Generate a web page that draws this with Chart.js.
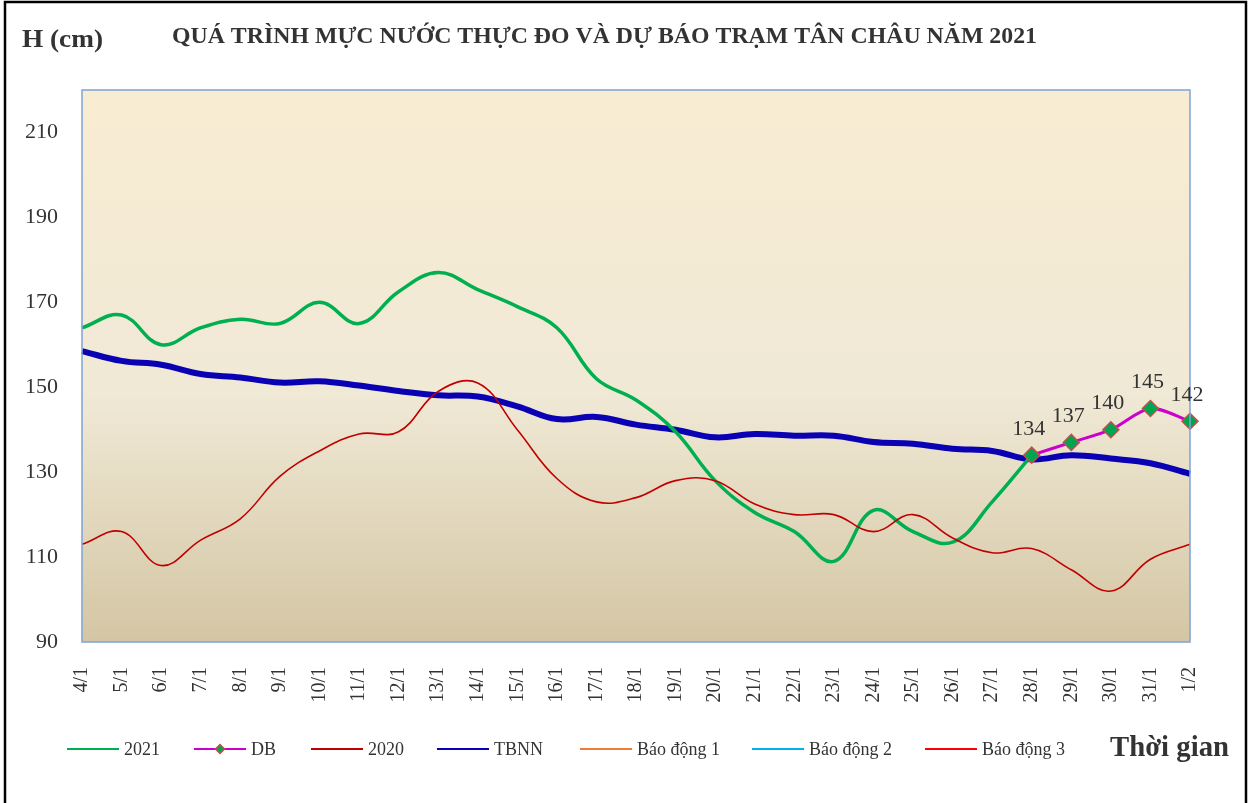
<!DOCTYPE html>
<html>
<head>
<meta charset="utf-8">
<script src="https://cdn.jsdelivr.net/npm/chart.js@4/dist/chart.umd.min.js"></script>
<style>
  html, body { margin: 0; padding: 0; background: #fff; }
</style>
</head>
<body>
<canvas id="tanChauChart" width="1253" height="803"></canvas>
<script>
// ngày (trục hoành)
const days = ['4/1','5/1','6/1','7/1','8/1','9/1','10/1','11/1','12/1','13/1','14/1','15/1','16/1','17/1',
  '18/1','19/1','20/1','21/1','22/1','23/1','24/1','25/1','26/1','27/1','28/1','29/1','30/1','31/1','1/2'];

// mực nước thực đo 2021 (cm)
const h2021 = [164, 167, 160, 164, 166, 165, 170, 165, 172.5, 177, 173, 169, 164, 152,
  147, 139.5, 128, 120.5, 116, 109, 121, 116, 113.5, 123, 134, null, null, null, null];
// dự báo
const hForecast = [null, null, null, null, null, null, null, null, null, null, null, null, null, null,
  null, null, null, null, null, null, null, null, null, null, 134, 137, 140, 145, 142];
// năm 2020
const h2020 = [113, 116, 108, 114, 119, 129, 135, 139, 139.5, 149, 151, 140, 128.5, 123,
  124, 128, 128, 122.5, 120, 120, 116, 120, 114.5, 111, 112, 107, 102, 109.5, 113];
// trung bình nhiều năm
const tbnn = [158.5, 156.2, 155.3, 153.1, 152.3, 151.1, 151.4, 150.4, 149.1, 148.1, 147.8, 145.5, 142.5, 143,
  141.2, 140, 138.2, 139, 138.6, 138.6, 137.1, 136.7, 135.5, 135, 133, 134, 133.2, 132.1, 129.6];
// báo động 1-3 nằm ngoài khung trục tung nên không có điểm hiển thị
const alarm1 = [];
const alarm2 = [];
const alarm3 = [];

const yTicks = [90, 110, 130, 150, 170, 190, 210];

const serif = '"Liberation Serif", "Times New Roman", serif';
const textColor = '#333333';

function drawFit(ctx, text, x, y, w, font) {
  ctx.save();
  ctx.font = font;
  ctx.textAlign = 'left';
  ctx.textBaseline = 'middle';
  const m = ctx.measureText(text).width;
  ctx.translate(x, y);
  ctx.scale(w / m, 1);
  ctx.fillText(text, 0, 0);
  ctx.restore();
}

const decor = {
  id: 'decor',
  beforeDraw(chart) {
    const ctx = chart.ctx, a = chart.chartArea;
    ctx.save();
    ctx.fillStyle = '#fff';
    ctx.fillRect(0, 0, chart.width, chart.height);
    const g = ctx.createLinearGradient(0, a.top, 0, a.bottom);
    g.addColorStop(0, '#F8ECD2');
    g.addColorStop(0.55, '#F0E9D6');
    g.addColorStop(1, '#D4C6A4');
    ctx.fillStyle = g;
    ctx.fillRect(a.left, a.top, a.right - a.left, a.bottom - a.top);
    ctx.restore();
  },
  afterDraw(chart) {
    const ctx = chart.ctx, a = chart.chartArea;
    ctx.save();
    // khung vùng vẽ
    ctx.strokeStyle = '#7EA2D6';
    ctx.lineWidth = 1.5;
    ctx.strokeRect(a.left, a.top, a.right - a.left, a.bottom - a.top);
    // khung ngoài
    ctx.strokeStyle = '#000';
    ctx.lineWidth = 2.5;
    ctx.strokeRect(5, 2, 1241, 810);

    ctx.fillStyle = textColor;
    drawFit(ctx, 'H (cm)', 22, 40, 81, 'bold 26px ' + serif);
    drawFit(ctx, 'QUÁ TRÌNH MỰC NƯỚC THỰC ĐO VÀ DỰ BÁO TRẠM TÂN CHÂU NĂM 2021', 172, 37, 865, 'bold 23px ' + serif);
    drawFit(ctx, 'Thời gian', 1110, 749, 119, 'bold 29px ' + serif);

    // nhãn giá trị dự báo
    const meta = chart.getDatasetMeta(1);
    ctx.font = '22px ' + serif;
    ctx.textAlign = 'center';
    ctx.textBaseline = 'middle';
    meta.data.forEach((pt, i) => {
      const v = hForecast[i];
      if (v === null || pt.skip) return;
      ctx.fillText(String(v), pt.x - 3, pt.y - 26);
    });

    // chú giải
    const legendX = [67, 194, 311, 437, 580, 752, 925];
    const ly = 749;
    ctx.textAlign = 'left';
    ctx.font = '18px ' + serif;
    chart.data.datasets.forEach((ds, i) => {
      const x0 = legendX[i];
      ctx.strokeStyle = ds.borderColor;
      ctx.lineWidth = 2;
      ctx.beginPath();
      ctx.moveTo(x0, ly);
      ctx.lineTo(x0 + 52, ly);
      ctx.stroke();
      if (ds.pointStyle === 'rectRot') {
        ctx.fillStyle = ds.pointBackgroundColor;
        ctx.strokeStyle = ds.pointBorderColor;
        ctx.lineWidth = 1.5;
        ctx.beginPath();
        ctx.moveTo(x0 + 26, ly - 4.5);
        ctx.lineTo(x0 + 30.5, ly);
        ctx.lineTo(x0 + 26, ly + 4.5);
        ctx.lineTo(x0 + 21.5, ly);
        ctx.closePath();
        ctx.fill();
        ctx.stroke();
      }
      ctx.fillStyle = textColor;
      ctx.fillText(ds.label, x0 + 57, ly + 1);
    });
    ctx.restore();
  }
};

const ctx = document.getElementById('tanChauChart').getContext('2d');
const chart = new Chart(ctx, {
  type: 'line',
  data: {
    labels: days,
    datasets: [
      { label: '2021', data: h2021, borderColor: '#00B050', borderWidth: 3.5, pointRadius: 0, tension: 0.4, order: 2 },
      { label: 'DB', data: hForecast, borderColor: '#CC00CC', borderWidth: 3, pointStyle: 'rectRot', pointRadius: 8,
        pointBackgroundColor: '#00A64F', pointBorderColor: '#C0504D', pointBorderWidth: 1.5, tension: 0.3, order: 0 },
      { label: '2020', data: h2020, borderColor: '#C00000', borderWidth: 1.6, pointRadius: 0, tension: 0.4, order: 1 },
      { label: 'TBNN', data: tbnn, borderColor: '#0A00B4', borderWidth: 6, pointRadius: 0, tension: 0.4, order: 3 },
      { label: 'Báo động 1', data: alarm1, borderColor: '#ED7D31', borderWidth: 2, pointRadius: 0 },
      { label: 'Báo động 2', data: alarm2, borderColor: '#00B0F0', borderWidth: 2, pointRadius: 0 },
      { label: 'Báo động 3', data: alarm3, borderColor: '#FF0000', borderWidth: 2, pointRadius: 0 }
    ]
  },
  options: {
    responsive: false,
    animation: false,
    layout: { padding: { top: 90, right: 63, left: 0, bottom: 0 } },
    plugins: { legend: { display: false }, title: { display: false }, tooltip: { enabled: false } },
    scales: {
      x: {
        offset: false,
        grid: { display: false, drawTicks: false },
        border: { display: false },
        ticks: { autoSkip: false, minRotation: 90, maxRotation: 90, padding: 25, color: textColor,
          font: { family: serif, size: 20 } },
        afterFit(s) { s.height = 161; }
      },
      y: {
        min: 90, max: 220,
        grid: { display: false, drawTicks: false },
        border: { display: false },
        ticks: { padding: 24, color: textColor, font: { family: serif, size: 22 } },
        afterBuildTicks(s) { s.ticks = yTicks.map(v => ({ value: v })); },
        afterFit(s) { s.width = 82; }
      }
    }
  },
  plugins: [decor]
});
</script>
</body>
</html>
